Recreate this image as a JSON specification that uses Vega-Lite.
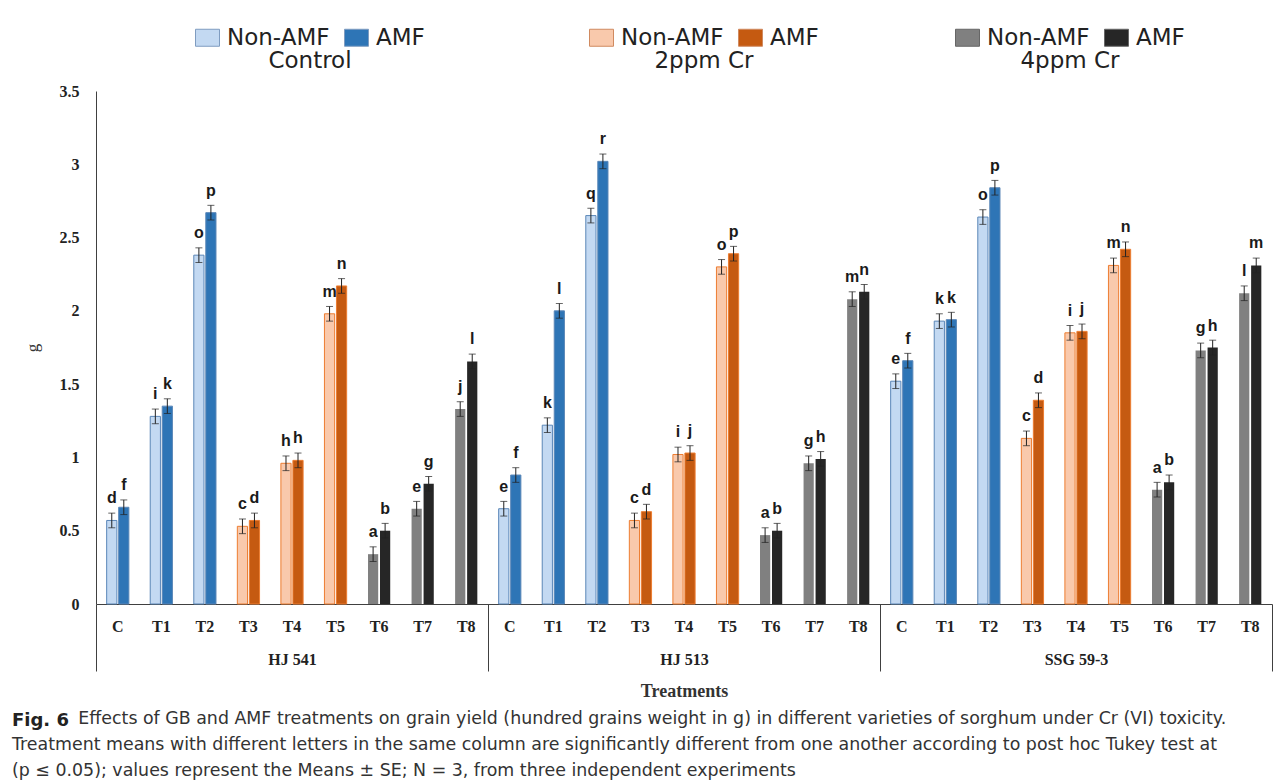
{
  "$schema": "https://vega.github.io/schema/vega-lite/v6.json",
  "background": "white",
  "padding": {"left": 12, "top": 26, "right": 4, "bottom": 2},
  "width": 1176,
  "height": 513,
  "data": {"values": [
    {"variety": "HJ 541", "slot": "HJ 541|C", "treatment": "C", "cr": "Control", "amf": "Non-AMF", "mean": 0.57, "se": 0.05, "letter": "d"},
    {"variety": "HJ 541", "slot": "HJ 541|C", "treatment": "C", "cr": "Control", "amf": "AMF", "mean": 0.66, "se": 0.05, "letter": "f"},
    {"variety": "HJ 541", "slot": "HJ 541|T1", "treatment": "T1", "cr": "Control", "amf": "Non-AMF", "mean": 1.28, "se": 0.05, "letter": "i"},
    {"variety": "HJ 541", "slot": "HJ 541|T1", "treatment": "T1", "cr": "Control", "amf": "AMF", "mean": 1.35, "se": 0.05, "letter": "k"},
    {"variety": "HJ 541", "slot": "HJ 541|T2", "treatment": "T2", "cr": "Control", "amf": "Non-AMF", "mean": 2.38, "se": 0.05, "letter": "o"},
    {"variety": "HJ 541", "slot": "HJ 541|T2", "treatment": "T2", "cr": "Control", "amf": "AMF", "mean": 2.67, "se": 0.05, "letter": "p"},
    {"variety": "HJ 541", "slot": "HJ 541|T3", "treatment": "T3", "cr": "2ppm Cr", "amf": "Non-AMF", "mean": 0.53, "se": 0.05, "letter": "c"},
    {"variety": "HJ 541", "slot": "HJ 541|T3", "treatment": "T3", "cr": "2ppm Cr", "amf": "AMF", "mean": 0.57, "se": 0.05, "letter": "d"},
    {"variety": "HJ 541", "slot": "HJ 541|T4", "treatment": "T4", "cr": "2ppm Cr", "amf": "Non-AMF", "mean": 0.96, "se": 0.05, "letter": "h"},
    {"variety": "HJ 541", "slot": "HJ 541|T4", "treatment": "T4", "cr": "2ppm Cr", "amf": "AMF", "mean": 0.98, "se": 0.05, "letter": "h"},
    {"variety": "HJ 541", "slot": "HJ 541|T5", "treatment": "T5", "cr": "2ppm Cr", "amf": "Non-AMF", "mean": 1.98, "se": 0.05, "letter": "m"},
    {"variety": "HJ 541", "slot": "HJ 541|T5", "treatment": "T5", "cr": "2ppm Cr", "amf": "AMF", "mean": 2.17, "se": 0.05, "letter": "n"},
    {"variety": "HJ 541", "slot": "HJ 541|T6", "treatment": "T6", "cr": "4ppm Cr", "amf": "Non-AMF", "mean": 0.34, "se": 0.05, "letter": "a"},
    {"variety": "HJ 541", "slot": "HJ 541|T6", "treatment": "T6", "cr": "4ppm Cr", "amf": "AMF", "mean": 0.50, "se": 0.05, "letter": "b"},
    {"variety": "HJ 541", "slot": "HJ 541|T7", "treatment": "T7", "cr": "4ppm Cr", "amf": "Non-AMF", "mean": 0.65, "se": 0.05, "letter": "e"},
    {"variety": "HJ 541", "slot": "HJ 541|T7", "treatment": "T7", "cr": "4ppm Cr", "amf": "AMF", "mean": 0.82, "se": 0.05, "letter": "g"},
    {"variety": "HJ 541", "slot": "HJ 541|T8", "treatment": "T8", "cr": "4ppm Cr", "amf": "Non-AMF", "mean": 1.33, "se": 0.05, "letter": "j"},
    {"variety": "HJ 541", "slot": "HJ 541|T8", "treatment": "T8", "cr": "4ppm Cr", "amf": "AMF", "mean": 1.655, "se": 0.05, "letter": "l"},
    {"variety": "HJ 513", "slot": "HJ 513|C", "treatment": "C", "cr": "Control", "amf": "Non-AMF", "mean": 0.65, "se": 0.05, "letter": "e"},
    {"variety": "HJ 513", "slot": "HJ 513|C", "treatment": "C", "cr": "Control", "amf": "AMF", "mean": 0.88, "se": 0.05, "letter": "f"},
    {"variety": "HJ 513", "slot": "HJ 513|T1", "treatment": "T1", "cr": "Control", "amf": "Non-AMF", "mean": 1.22, "se": 0.05, "letter": "k"},
    {"variety": "HJ 513", "slot": "HJ 513|T1", "treatment": "T1", "cr": "Control", "amf": "AMF", "mean": 2.0, "se": 0.05, "letter": "l"},
    {"variety": "HJ 513", "slot": "HJ 513|T2", "treatment": "T2", "cr": "Control", "amf": "Non-AMF", "mean": 2.65, "se": 0.05, "letter": "q"},
    {"variety": "HJ 513", "slot": "HJ 513|T2", "treatment": "T2", "cr": "Control", "amf": "AMF", "mean": 3.02, "se": 0.05, "letter": "r"},
    {"variety": "HJ 513", "slot": "HJ 513|T3", "treatment": "T3", "cr": "2ppm Cr", "amf": "Non-AMF", "mean": 0.57, "se": 0.05, "letter": "c"},
    {"variety": "HJ 513", "slot": "HJ 513|T3", "treatment": "T3", "cr": "2ppm Cr", "amf": "AMF", "mean": 0.63, "se": 0.05, "letter": "d"},
    {"variety": "HJ 513", "slot": "HJ 513|T4", "treatment": "T4", "cr": "2ppm Cr", "amf": "Non-AMF", "mean": 1.02, "se": 0.05, "letter": "i"},
    {"variety": "HJ 513", "slot": "HJ 513|T4", "treatment": "T4", "cr": "2ppm Cr", "amf": "AMF", "mean": 1.03, "se": 0.05, "letter": "j"},
    {"variety": "HJ 513", "slot": "HJ 513|T5", "treatment": "T5", "cr": "2ppm Cr", "amf": "Non-AMF", "mean": 2.30, "se": 0.05, "letter": "o"},
    {"variety": "HJ 513", "slot": "HJ 513|T5", "treatment": "T5", "cr": "2ppm Cr", "amf": "AMF", "mean": 2.39, "se": 0.05, "letter": "p"},
    {"variety": "HJ 513", "slot": "HJ 513|T6", "treatment": "T6", "cr": "4ppm Cr", "amf": "Non-AMF", "mean": 0.47, "se": 0.05, "letter": "a"},
    {"variety": "HJ 513", "slot": "HJ 513|T6", "treatment": "T6", "cr": "4ppm Cr", "amf": "AMF", "mean": 0.50, "se": 0.05, "letter": "b"},
    {"variety": "HJ 513", "slot": "HJ 513|T7", "treatment": "T7", "cr": "4ppm Cr", "amf": "Non-AMF", "mean": 0.96, "se": 0.05, "letter": "g"},
    {"variety": "HJ 513", "slot": "HJ 513|T7", "treatment": "T7", "cr": "4ppm Cr", "amf": "AMF", "mean": 0.99, "se": 0.05, "letter": "h"},
    {"variety": "HJ 513", "slot": "HJ 513|T8", "treatment": "T8", "cr": "4ppm Cr", "amf": "Non-AMF", "mean": 2.08, "se": 0.05, "letter": "m"},
    {"variety": "HJ 513", "slot": "HJ 513|T8", "treatment": "T8", "cr": "4ppm Cr", "amf": "AMF", "mean": 2.13, "se": 0.05, "letter": "n"},
    {"variety": "SSG 59-3", "slot": "SSG 59-3|C", "treatment": "C", "cr": "Control", "amf": "Non-AMF", "mean": 1.52, "se": 0.05, "letter": "e"},
    {"variety": "SSG 59-3", "slot": "SSG 59-3|C", "treatment": "C", "cr": "Control", "amf": "AMF", "mean": 1.66, "se": 0.05, "letter": "f"},
    {"variety": "SSG 59-3", "slot": "SSG 59-3|T1", "treatment": "T1", "cr": "Control", "amf": "Non-AMF", "mean": 1.93, "se": 0.05, "letter": "k"},
    {"variety": "SSG 59-3", "slot": "SSG 59-3|T1", "treatment": "T1", "cr": "Control", "amf": "AMF", "mean": 1.94, "se": 0.05, "letter": "k"},
    {"variety": "SSG 59-3", "slot": "SSG 59-3|T2", "treatment": "T2", "cr": "Control", "amf": "Non-AMF", "mean": 2.64, "se": 0.05, "letter": "o"},
    {"variety": "SSG 59-3", "slot": "SSG 59-3|T2", "treatment": "T2", "cr": "Control", "amf": "AMF", "mean": 2.84, "se": 0.05, "letter": "p"},
    {"variety": "SSG 59-3", "slot": "SSG 59-3|T3", "treatment": "T3", "cr": "2ppm Cr", "amf": "Non-AMF", "mean": 1.13, "se": 0.05, "letter": "c"},
    {"variety": "SSG 59-3", "slot": "SSG 59-3|T3", "treatment": "T3", "cr": "2ppm Cr", "amf": "AMF", "mean": 1.39, "se": 0.05, "letter": "d"},
    {"variety": "SSG 59-3", "slot": "SSG 59-3|T4", "treatment": "T4", "cr": "2ppm Cr", "amf": "Non-AMF", "mean": 1.85, "se": 0.05, "letter": "i"},
    {"variety": "SSG 59-3", "slot": "SSG 59-3|T4", "treatment": "T4", "cr": "2ppm Cr", "amf": "AMF", "mean": 1.86, "se": 0.05, "letter": "j"},
    {"variety": "SSG 59-3", "slot": "SSG 59-3|T5", "treatment": "T5", "cr": "2ppm Cr", "amf": "Non-AMF", "mean": 2.31, "se": 0.05, "letter": "m"},
    {"variety": "SSG 59-3", "slot": "SSG 59-3|T5", "treatment": "T5", "cr": "2ppm Cr", "amf": "AMF", "mean": 2.42, "se": 0.05, "letter": "n"},
    {"variety": "SSG 59-3", "slot": "SSG 59-3|T6", "treatment": "T6", "cr": "4ppm Cr", "amf": "Non-AMF", "mean": 0.78, "se": 0.05, "letter": "a"},
    {"variety": "SSG 59-3", "slot": "SSG 59-3|T6", "treatment": "T6", "cr": "4ppm Cr", "amf": "AMF", "mean": 0.83, "se": 0.05, "letter": "b"},
    {"variety": "SSG 59-3", "slot": "SSG 59-3|T7", "treatment": "T7", "cr": "4ppm Cr", "amf": "Non-AMF", "mean": 1.73, "se": 0.05, "letter": "g"},
    {"variety": "SSG 59-3", "slot": "SSG 59-3|T7", "treatment": "T7", "cr": "4ppm Cr", "amf": "AMF", "mean": 1.75, "se": 0.05, "letter": "h"},
    {"variety": "SSG 59-3", "slot": "SSG 59-3|T8", "treatment": "T8", "cr": "4ppm Cr", "amf": "Non-AMF", "mean": 2.12, "se": 0.05, "letter": "l"},
    {"variety": "SSG 59-3", "slot": "SSG 59-3|T8", "treatment": "T8", "cr": "4ppm Cr", "amf": "AMF", "mean": 2.31, "se": 0.05, "letter": "m"}
  ]},
  "encoding": {
    "y": {
      "field": "mean", "type": "quantitative",
      "scale": {"domain": [0, 3.5]},
      "axis": {
        "title": "g", "titleFont": "Liberation Serif", "titleFontSize": 17, "titleFontWeight": "normal", "titleColor": "#333",
        "titlePadding": 18,
        "labelFont": "Liberation Serif", "labelFontWeight": "bold", "labelFontSize": 16, "labelColor": "#222",
        "values": [0, 0.5, 1, 1.5, 2, 2.5, 3, 3.5], "format": ".1~f",
        "ticks": false, "grid": false, "labelPadding": 17, "domainColor": "#404040"
      }
    }
  },
  "layer": [
    {
      "encoding": {
        "x": {
          "field": "slot", "type": "nominal",
          "scale": {"domain": [
            "HJ 541|C", "HJ 541|T1", "HJ 541|T2", "HJ 541|T3", "HJ 541|T4", "HJ 541|T5", "HJ 541|T6", "HJ 541|T7", "HJ 541|T8",
            "HJ 513|C", "HJ 513|T1", "HJ 513|T2", "HJ 513|T3", "HJ 513|T4", "HJ 513|T5", "HJ 513|T6", "HJ 513|T7", "HJ 513|T8",
            "SSG 59-3|C", "SSG 59-3|T1", "SSG 59-3|T2", "SSG 59-3|T3", "SSG 59-3|T4", "SSG 59-3|T5", "SSG 59-3|T6", "SSG 59-3|T7", "SSG 59-3|T8"
          ], "paddingInner": 0.49, "paddingOuter": 0.245},
          "axis": {
            "title": null, "labelAngle": 0, "orient": "bottom",
            "labelExpr": "split(datum.label, '|')[1]",
            "labelFont": "Liberation Serif", "labelFontWeight": "bold", "labelFontSize": 16, "labelColor": "#222",
            "ticks": false, "labelPadding": 14, "domainColor": "#404040"
          }
        },
        "xOffset": {"field": "amf", "type": "nominal", "sort": ["Non-AMF", "AMF"], "scale": {"paddingInner": 0.15}}
      },
      "layer": [
        {
          "transform": [{"filter": "datum.cr === 'Control'"}],
          "mark": {"type": "bar", "stroke": "#5b87b8", "strokeWidth": 1},
          "encoding": {
            "color": {
              "field": "amf", "type": "nominal",
              "scale": {"domain": ["Non-AMF", "AMF"], "range": ["#c3d9f2", "#2e75b6"]},
              "legend": {"title": "Control", "orient": "none", "legendX": 100, "legendY": -65, "direction": "horizontal", "titleOrient": "bottom", "titleAnchor": "middle", "symbolStrokeColor": "#7f9cc0"}
            }
          }
        },
        {
          "transform": [{"filter": "datum.cr === '2ppm Cr'"}],
          "mark": {"type": "bar", "stroke": "#ed7d31", "strokeWidth": 1},
          "encoding": {
            "color": {
              "field": "amf", "type": "nominal",
              "scale": {"domain": ["Non-AMF", "AMF"], "range": ["#f9c9ac", "#c55a11"]},
              "legend": {"title": "2ppm Cr", "orient": "none", "legendX": 494, "legendY": -65, "direction": "horizontal", "titleOrient": "bottom", "titleAnchor": "middle", "symbolStrokeColor": "#d08a60"}
            }
          }
        },
        {
          "transform": [{"filter": "datum.cr === '4ppm Cr'"}],
          "mark": {"type": "bar"},
          "encoding": {
            "color": {
              "field": "amf", "type": "nominal",
              "scale": {"domain": ["Non-AMF", "AMF"], "range": ["#808080", "#262626"]},
              "legend": {"title": "4ppm Cr", "orient": "none", "legendX": 860, "legendY": -65, "direction": "horizontal", "titleOrient": "bottom", "titleAnchor": "middle", "symbolStrokeColor": "#666666"}
            }
          }
        },
        {
          "mark": {"type": "errorbar", "ticks": {"size": 7}, "color": "#222", "thickness": 1},
          "encoding": {
            "y": {"field": "mean", "type": "quantitative"},
            "yError": {"field": "se"}
          }
        },
        {
          "mark": {"type": "text", "dy": -17, "baseline": "alphabetic", "font": "Liberation Sans", "fontWeight": "bold", "fontSize": 16, "color": "#1a1a1a"},
          "encoding": {"text": {"field": "letter"}}
        }
      ],
      "resolve": {"scale": {"color": "independent"}}
    },
    {
      "mark": {"type": "tick", "opacity": 0},
      "encoding": {
        "x": {
          "field": "variety", "type": "nominal",
          "scale": {"domain": ["HJ 541", "HJ 513", "SSG 59-3"], "paddingInner": 0, "paddingOuter": 0},
          "axis": {
            "orient": "bottom", "title": "Treatments", "labelAngle": 0,
            "labelFont": "Liberation Serif", "labelFontWeight": "bold", "labelFontSize": 16, "labelColor": "#222",
            "titleFont": "Liberation Serif", "titleFontWeight": "bold", "titleFontSize": 18, "titleColor": "#333",
            "tickBand": "extent", "tickSize": 67, "tickColor": "#404040",
            "labelPadding": -20, "titlePadding": 11, "domain": false
          }
        }
      }
    }
  ],
  "resolve": {"scale": {"x": "independent"}, "axis": {"x": "independent"}},
  "title": {
    "text": "Fig. 6",
    "subtitle": [
      "\u200b\u00a0\u00a0\u00a0\u00a0\u00a0\u00a0\u00a0\u00a0\u00a0\u00a0\u00a0\u00a0Effects of GB and AMF treatments on grain yield (hundred grains weight in g) in different varieties of sorghum under Cr (VI) toxicity.",
      "Treatment means with different letters in the same column are significantly different from one another according to post hoc Tukey test at",
      "(p ≤ 0.05); values represent the Means ± SE; N = 3, from three independent experiments"
    ],
    "orient": "bottom", "anchor": "start", "frame": "bounds", "dx": -11,
    "font": "DejaVu Sans", "fontSize": 18, "fontWeight": "bold", "color": "#222",
    "subtitleFont": "DejaVu Sans", "subtitleFontSize": 17.4, "subtitleColor": "#333", "subtitleLineHeight": 26,
    "subtitlePadding": -20, "offset": 11
  },
  "config": {
    "view": {"stroke": null},
    "legend": {
      "titleFont": "DejaVu Sans", "titleFontSize": 23, "titleFontWeight": "normal", "titleColor": "#222",
      "labelFont": "DejaVu Sans", "labelFontSize": 23, "labelColor": "#222",
      "symbolType": "M-1.2,-0.85H1.2V0.85H-1.2Z", "symbolSize": 400, "symbolStrokeWidth": 1, "symbolOpacity": 1,
      "columnPadding": 12, "labelOffset": 8, "titlePadding": 0
    }
  }
}
